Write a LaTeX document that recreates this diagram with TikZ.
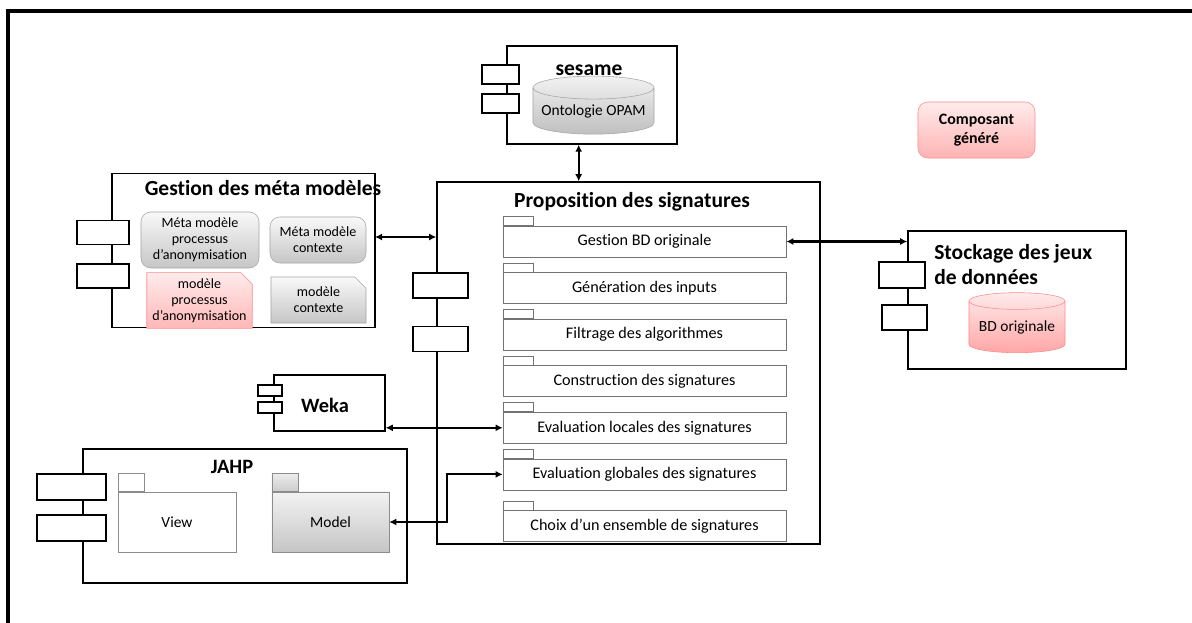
\documentclass[tikz,border=0pt]{standalone}
\usepackage{fontspec}
\setmainfont{Carlito}[Ligatures=NoCommon]
\usetikzlibrary{shapes.geometric, shapes.misc, arrows.meta, positioning}
\tikzstyle{component} = [rectangle, draw=black, line width=1pt, fill=white, inner sep=0pt]
\tikzstyle{port} = [rectangle, draw=black, line width=1pt, fill=white, inner sep=0pt]
\tikzstyle{title} = [font=\fontsize{15.3}{18}\selectfont\bfseries, inner sep=0pt]
\tikzstyle{subbox} = [rectangle, draw=black!55, fill=white, minimum width=7.075cm, minimum height=0.775cm, inner sep=0pt, font=\fontsize{11.5}{13}\selectfont]
\tikzstyle{tabbox} = [rectangle, draw=black!55, fill=white, minimum width=0.75cm, minimum height=0.225cm, inner sep=0pt]
\tikzstyle{greybox} = [rectangle, rounded corners=7pt, draw=black!35, top color=gray!5, bottom color=gray!45, align=center, inner sep=0pt, font=\fontsize{10}{11.5}\selectfont]
\tikzstyle{greynote} = [chamfered rectangle, chamfered rectangle corners=north east, chamfered rectangle xsep=4pt, chamfered rectangle ysep=4pt, draw=black!35, top color=gray!5, bottom color=gray!45, align=center, inner sep=0pt, font=\fontsize{10}{11.5}\selectfont]
\tikzstyle{pinknote} = [greynote, draw=red!45, top color=red!8, bottom color=red!28]
\tikzstyle{db} = [cylinder, shape border rotate=90, aspect=0.22, draw=black!35, top color=gray!10, bottom color=gray!50, inner sep=0pt, font=\fontsize{11}{13}\selectfont]
\tikzstyle{arrow} = [line width=1.6pt, {Latex[length=5pt,width=5pt]}-{Latex[length=5pt,width=5pt]}]

\begin{document}
\begin{tikzpicture}[x=0.025cm, y=-0.025cm]
        \useasboundingbox (0,0) rectangle (1192,623);
        \draw[line width=2.2pt] (8,623) -- (8,11) -- (1192,11);

        % sesame
        \node (sesame) [component, minimum width=4.25cm, minimum height=2.45cm] at (592,95) {};
        \node (sesp1) [port, minimum width=0.925cm, minimum height=0.475cm] at (500.5,74.5) {};
        \node (sesp2) [port, minimum width=0.925cm, minimum height=0.475cm] at (500.5,103.5) {};
        \node (sestitle) [title] at (589,70) {sesame};
        \node (opam) [db, minimum height=1.45cm, minimum width=3.025cm] at (593.5,111) {Ontologie OPAM};

        % Proposition des signatures
        \node (prop) [component, minimum width=9.575cm, minimum height=9.05cm] at (628.5,363) {};
        \node (propp1) [port, minimum width=1.375cm, minimum height=0.625cm] at (440.5,285.5) {};
        \node (propp2) [port, minimum width=1.375cm, minimum height=0.625cm] at (440.5,339) {};
        \node (proptitle) [title] at (632,202) {Proposition des signatures};

        \node (gbd) [subbox] at (644.5,241.5) {Gestion BD originale};
        \node (gen) [subbox, below=0.375cm of gbd] {Génération des inputs};
        \node (filt) [subbox, below=0.375cm of gen] {Filtrage des algorithmes};
        \node (cons) [subbox, below=0.375cm of filt] {Construction des signatures};
        \node (evl) [subbox, below=0.375cm of cons] {Evaluation locales des signatures};
        \node (evg) [subbox, below=0.375cm of evl] {Evaluation globales des signatures};
        \node (choix) [subbox, below=0.5cm of evg] {Choix d’un ensemble de signatures};
        \node (gbdtab) [tabbox, above right=0pt and 0pt of gbd.north west] {};
        \node (gentab) [tabbox, above right=0pt and 0pt of gen.north west] {};
        \node (filttab) [tabbox, above right=0pt and 0pt of filt.north west] {};
        \node (constab) [tabbox, above right=0pt and 0pt of cons.north west] {};
        \node (evltab) [tabbox, above right=0pt and 0pt of evl.north west] {};
        \node (evgtab) [tabbox, above right=0pt and 0pt of evg.north west] {};
        \node (choixtab) [tabbox, above right=0pt and 0pt of choix.north west] {};

        % Gestion des meta modeles
        \node (meta) [component, minimum width=6.575cm, minimum height=3.85cm] at (243.5,250.5) {};
        \node (metap1) [port, minimum width=1.3cm, minimum height=0.6cm] at (103,232.5) {};
        \node (metap2) [port, minimum width=1.3cm, minimum height=0.6cm] at (103,276) {};
        \node (metatitle) [title] at (263,188) {Gestion des méta modèles};
        \node (mmproc) [greybox, minimum width=2.95cm, minimum height=1.4cm] at (200,240) {Méta modèle\\processus\\d’anonymisation};
        \node (mmctx) [greybox, minimum width=2.4cm, minimum height=1.15cm] at (318,240) {Méta modèle\\contexte};
        \node (mproc) [pinknote, minimum width=2.575cm, minimum height=1.175cm] at (199.5,300.5) {modèle\\processus\\d’anonymisation};
        \node (mctx) [greynote, minimum width=2.375cm, minimum height=1.15cm] at (318.5,300) {modèle\\contexte};
        \coordinate (metaout) at (375,237);

        % legende
        \node (gen_comp) [rectangle, rounded corners=7pt, draw=red!45, top color=red!8, bottom color=red!30, minimum width=2.925cm, minimum height=1.4cm, align=center, font=\fontsize{11.3}{13}\selectfont\bfseries] at (976.5,130) {Composant\\généré};

        % Stockage des jeux de donnees
        \node (stock) [component, minimum width=5.45cm, minimum height=3.45cm] at (1017,300) {};
        \node (stockp1) [port, minimum width=1.15cm, minimum height=0.65cm] at (902,275) {};
        \node (stockp2) [port, minimum width=1.125cm, minimum height=0.625cm] at (904.5,317.5) {};
        \node (stocktitle) [title, anchor=north west, align=left] at (934,244) {Stockage des jeux\\de données};
        \node (bdorig) [db, draw=red!45, top color=red!8, bottom color=red!35, minimum height=1.5cm, minimum width=2.4cm] at (1017,327) {BD originale};

        % Weka
        \node (weka) [component, minimum width=2.775cm, minimum height=1.4cm] at (329.5,403) {};
        \node (wekap1) [port, minimum width=0.6cm, minimum height=0.275cm] at (270,390.5) {};
        \node (wekap2) [port, minimum width=0.6cm, minimum height=0.275cm] at (270,407.5) {};
        \node (wekatitle) [font=\fontsize{14.5}{17}\selectfont\bfseries] at (325,405) {Weka};

        % JAHP
        \node (jahp) [component, minimum width=8.1cm, minimum height=3.35cm] at (245,516) {};
        \node (jahpp1) [port, minimum width=1.725cm, minimum height=0.65cm] at (71.5,487) {};
        \node (jahpp2) [port, minimum width=1.725cm, minimum height=0.65cm] at (71.5,528) {};
        \node (jahptitle) [font=\fontsize{14.5}{17}\selectfont\bfseries] at (232,467) {JAHP};
        \node (view) [rectangle, draw=black!45, fill=white, minimum width=2.95cm, minimum height=1.5cm, font=\fontsize{11}{13}\selectfont] at (177,522) {View};
        \node (viewtab) [rectangle, draw=black!45, fill=white, minimum width=0.65cm, minimum height=0.45cm, above right=0pt and 0pt of view.north west] {};
        \node (model) [rectangle, draw=black!45, top color=gray!10, bottom color=gray!45, minimum width=2.925cm, minimum height=1.5cm, font=\fontsize{11}{13}\selectfont] at (330.5,522) {Model};
        \node (modeltab) [rectangle, draw=black!45, top color=gray!15, bottom color=gray!40, minimum width=0.65cm, minimum height=0.45cm, above right=0pt and 0pt of model.north west] {};

        % Arrows
        \draw [arrow] (sesame.255) -- (sesame.255 |- prop.north);
        \draw [arrow] (metaout) -- (metaout -| prop.west);
        \draw [arrow] (gbd.east) -- (stock.west |- gbd.east);
        \draw [arrow] (evl.west -| weka.east) -- (evl.west);
        \draw [arrow] (model.east) -- ++(58,0) |- (evg.west);

    \end{tikzpicture}
\end{document}
